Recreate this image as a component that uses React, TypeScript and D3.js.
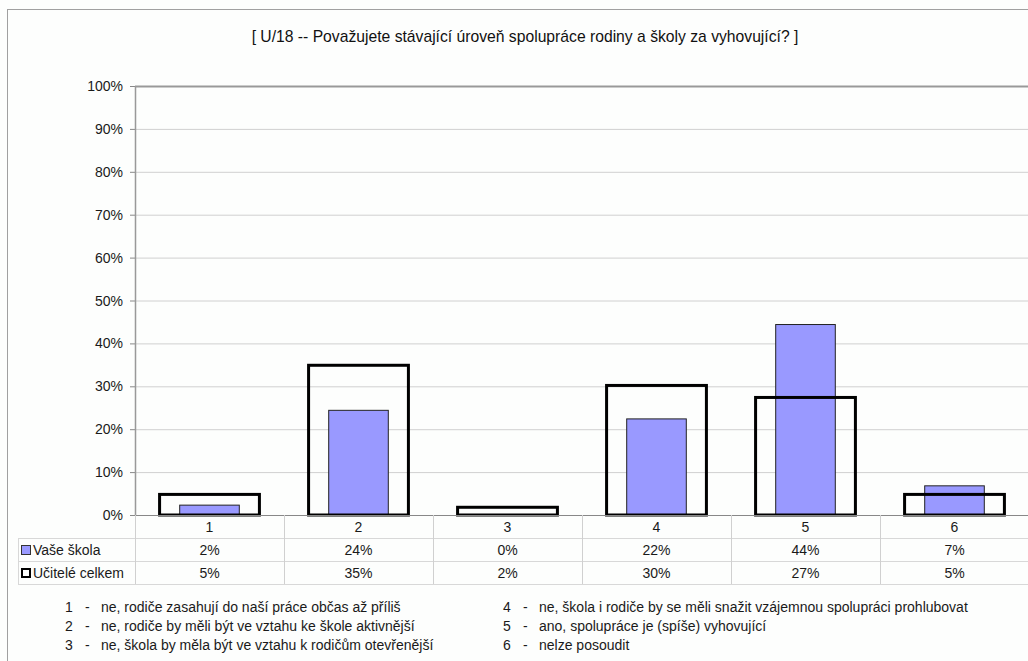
import React from 'react';
import * as d3 from 'd3';

const categories = ['1', '2', '3', '4', '5', '6'];
const vaseSkola = [2.3, 24.4, 0, 22.4, 44.4, 6.8];
const uciteleCelkem = [4.8, 34.9, 1.8, 30.2, 27.4, 4.8];
const seriesNames = ['Vaše škola', 'Učitelé celkem'];
const yTicks = [0, 10, 20, 30, 40, 50, 60, 70, 80, 90, 100];
const descLeft = [
  ['1', 'ne, rodiče zasahují do naší práce občas až příliš'],
  ['2', 'ne, rodiče by měli být ve vztahu ke škole aktivnější'],
  ['3', 'ne, škola by měla být ve vztahu k rodičům otevřenější'],
];
const descRight = [
  ['4', 'ne, škola i rodiče by se měli snažit vzájemnou spolupráci prohlubovat'],
  ['5', 'ano, spolupráce je (spíše) vyhovující'],
  ['6', 'nelze posoudit'],
];
const title = '[ U/18 -- Považujete stávající úroveň spolupráce rodiny a školy za vyhovující? ]';

const W = 1028;
const H = 661;
const plot = { left: 135, top: 86, bottom: 515, right: 1029 };
const rowH = 23;
const tableLeft = 18;
const font = '"Liberation Sans", Arial, sans-serif';
const blue = '#9999ff';

const App: React.FC = () => {
  const x = d3.scaleBand<string>().domain(categories).range([plot.left, plot.right]);
  const y = d3.scaleLinear().domain([0, 100]).range([plot.bottom, plot.top]);
  const bw = x.bandwidth();
  const outerW = bw * 0.67;
  const innerW = bw * 0.4;
  const fmt = (v: number) => `${Math.round(v)}%`;
  const rows = [vaseSkola, uciteleCelkem];

  return (
    <svg width={W} height={H} style={{ position: 'absolute', left: 0, top: 0, background: '#fdfefd' }}>
      <rect x={7.5} y={9.5} width={W} height={H} fill="#fdfefd" stroke="#a0a0a0" />
      <text x={525} y={42} textAnchor="middle" fontFamily={font} fontSize={15.7} fill="#111">{title}</text>

      {/* grid */}
      {yTicks.map(t => (
        <g key={t}>
          {t > 0 && t < 100 && (
            <line x1={plot.left} x2={plot.right} y1={y(t) + 0.5} y2={y(t) + 0.5} stroke="#d0d0d0" />
          )}
          <line x1={plot.left - 5} x2={plot.left} y1={y(t) + 0.5} y2={y(t) + 0.5} stroke="#888" />
          <text x={123} y={y(t) + 5} textAnchor="end" fontFamily={font} fontSize={14} fill="#1a1a1a">{t}%</text>
        </g>
      ))}
      <line x1={plot.left} x2={plot.right} y1={plot.top + 0.5} y2={plot.top + 0.5} stroke="#999" strokeWidth={2} />
      <line x1={plot.left + 0.5} x2={plot.left + 0.5} y1={plot.top} y2={plot.bottom} stroke="#999" strokeWidth={1.5} />

      {/* bars */}
      {categories.map((c, i) => {
        const cx = (x(c) as number) + bw / 2;
        return (
          <g key={c}>
            {vaseSkola[i] > 0 && (
              <rect x={cx - innerW / 2} y={y(vaseSkola[i])} width={innerW} height={plot.bottom - y(vaseSkola[i])}
                fill={blue} stroke="#222" strokeWidth={1} />
            )}
            <rect x={cx - outerW / 2} y={y(uciteleCelkem[i])} width={outerW} height={plot.bottom - y(uciteleCelkem[i])}
              fill="none" stroke="#000" strokeWidth={3} />
          </g>
        );
      })}
      <line x1={plot.left} x2={plot.right} y1={plot.bottom + 0.5} y2={plot.bottom + 0.5} stroke="#888" />

      {/* data table */}
      {[1, 2, 3].map(r => (
        <line key={r} x1={tableLeft} x2={plot.right} y1={plot.bottom + r * rowH + 0.5} y2={plot.bottom + r * rowH + 0.5} stroke="#d8d8d8" />
      ))}
      <line x1={tableLeft + 0.5} x2={tableLeft + 0.5} y1={plot.bottom + rowH} y2={plot.bottom + 3 * rowH} stroke="#d8d8d8" />
      {categories.map(c => (
        <line key={c} x1={(x(c) as number) + 0.5} x2={(x(c) as number) + 0.5} y1={plot.bottom} y2={plot.bottom + 3 * rowH} stroke="#d0d0d0" />
      ))}
      {categories.map(c => (
        <text key={c} x={(x(c) as number) + bw / 2} y={plot.bottom + 17} textAnchor="middle" fontFamily={font} fontSize={14} fill="#1a1a1a">{c}</text>
      ))}
      {rows.map((vals, r) => (
        <g key={r}>
          {r === 0
            ? <rect x={21.5} y={plot.bottom + rowH * (r + 1) + 7.5} width={9} height={9} fill={blue} stroke="#333" />
            : <rect x={22} y={plot.bottom + rowH * (r + 1) + 8} width={8} height={8} fill="none" stroke="#000" strokeWidth={2} />}
          <text x={33} y={plot.bottom + rowH * (r + 1) + 17} fontFamily={font} fontSize={14} fill="#1a1a1a">{seriesNames[r]}</text>
          {vals.map((v, i) => (
            <text key={i} x={(x(categories[i]) as number) + bw / 2} y={plot.bottom + rowH * (r + 1) + 17}
              textAnchor="middle" fontFamily={font} fontSize={14} fill="#1a1a1a">{fmt(v)}</text>
          ))}
        </g>
      ))}

      {/* category descriptions */}
      {[descLeft, descRight].map((col, ci) => (
        <g key={ci} transform={`translate(${ci === 0 ? 65 : 503}, 0)`}>
          {col.map(([k, txt], li) => (
            <g key={k} fontFamily={font} fontSize={14} fill="#1a1a1a">
              <text x={4} y={612 + li * 19} textAnchor="middle">{k}</text>
              <text x={20} y={612 + li * 19}>-</text>
              <text x={36} y={612 + li * 19}>{txt}</text>
            </g>
          ))}
        </g>
      ))}
    </svg>
  );
};

export default App;
